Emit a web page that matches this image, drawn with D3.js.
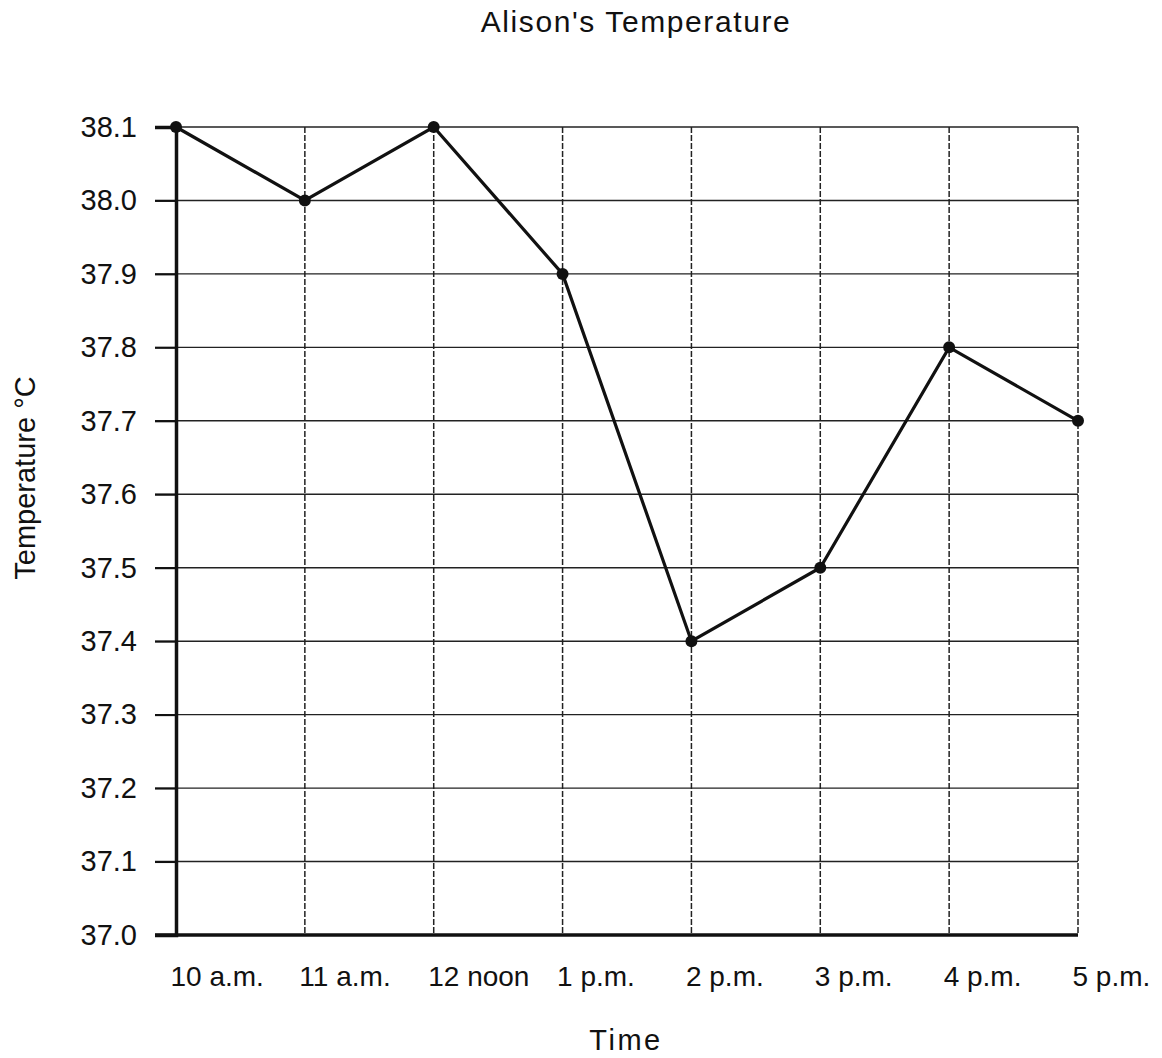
<!DOCTYPE html>
<html><head><meta charset="utf-8">
<script src="https://cdn.jsdelivr.net/npm/d3@7"></script>
<style>body{margin:0;background:#fff}svg{display:block}text{font-family:"Liberation Sans",Arial,sans-serif;fill:#111}</style>
</head><body>
<script>
const categories = ["10 a.m.","11 a.m.","12 noon","1 p.m.","2 p.m.","3 p.m.","4 p.m.","5 p.m."];
const temperatures = [38.1, 38.0, 38.1, 37.9, 37.4, 37.5, 37.8, 37.7];
const yTicks = [37.0,37.1,37.2,37.3,37.4,37.5,37.6,37.7,37.8,37.9,38.0,38.1];

const W = 1162, H = 1058;
const svg = d3.select("body").append("svg").attr("width", W).attr("height", H);
const x = d3.scalePoint().domain(categories).range([176, 1078]);
const y = d3.scaleLinear().domain([37.0, 38.1]).range([935, 127]);

// horizontal grid
svg.append("g").selectAll("line").data(yTicks.slice(1)).join("line")
  .attr("x1", 155).attr("x2", 1078).attr("y1", d => y(d)).attr("y2", d => y(d))
  .attr("stroke", "#222").attr("stroke-width", 1.4);
// vertical grid (dashed)
svg.append("g").selectAll("line").data(categories.slice(1)).join("line")
  .attr("x1", d => x(d)).attr("x2", d => x(d)).attr("y1", y(38.1)).attr("y2", y(37.0))
  .attr("stroke", "#222").attr("stroke-width", 1.5).attr("stroke-dasharray", "6,2");

// y axis
const yAxis = d3.axisLeft(y).tickValues(yTicks).tickFormat(d3.format(".1f")).tickSize(21).tickPadding(18);
const gy = svg.append("g").attr("transform", "translate(176,0)").call(yAxis);
gy.select(".domain").attr("stroke", "#111").attr("stroke-width", 3.5);
gy.selectAll(".tick line").attr("stroke", "#111").attr("stroke-width", 2);
gy.selectAll(".tick text").style("font-size", "29px").attr("fill", "#111");

// x axis
const xAxis = d3.axisBottom(x).tickSize(0).tickPadding(0);
const gx = svg.append("g").attr("transform", "translate(0,935)").call(xAxis);
gx.select(".domain").attr("stroke", "#111").attr("stroke-width", 3.5).attr("d", "M155,0H1078");
gx.selectAll(".tick text").style("font-size", "28px").attr("fill", "#111")
  .attr("text-anchor", "start").attr("x", -6).attr("dy", null).attr("y", 51);

// line
svg.append("path").datum(temperatures)
  .attr("d", d3.line().x((d, i) => x(categories[i])).y(d => y(d)))
  .attr("fill", "none").attr("stroke", "#111").attr("stroke-width", 3.2);
svg.append("g").selectAll("circle").data(temperatures).join("circle")
  .attr("cx", (d, i) => x(categories[i])).attr("cy", d => y(d)).attr("r", 6).attr("fill", "#111");

// titles
svg.append("text").attr("x", 636).attr("y", 32).attr("text-anchor", "middle")
  .style("font-size", "30px").style("letter-spacing", "1.6px").text("Alison's Temperature");
svg.append("text").attr("x", 626).attr("y", 1050).attr("text-anchor", "middle")
  .style("font-size", "29px").style("letter-spacing", "2.5px").text("Time");
svg.append("text").attr("transform", "translate(35,478) rotate(-90)").attr("text-anchor", "middle")
  .style("font-size", "29px").text("Temperature °C");
</script>
</body></html>
